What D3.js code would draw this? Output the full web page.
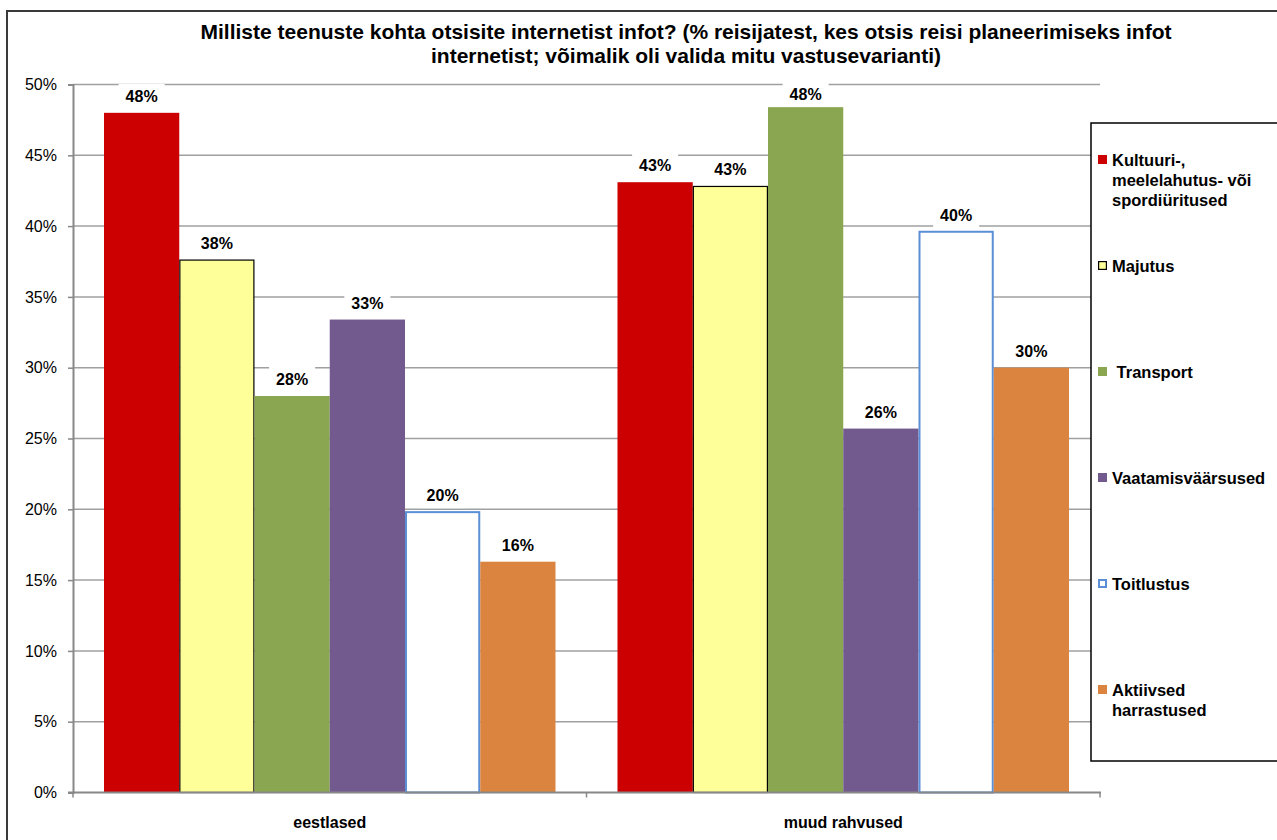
<!DOCTYPE html>
<html><head><meta charset="utf-8">
<script src="https://cdn.jsdelivr.net/npm/d3@7"></script>
<style>body{margin:0;background:#fff}svg{display:block;font-family:"Liberation Sans",Arial,sans-serif}</style>
</head><body><svg id="c" width="1277" height="840"></svg>
<script>
const titleLines = ["Milliste teenuste kohta otsisite internetist infot? (% reisijatest, kes otsis reisi planeerimiseks infot","internetist; võimalik oli valida mitu vastusevarianti)"];
const categories = ["eestlased", "muud rahvused"];
const seriesNames = ["Kultuuri-,\nmeelelahutus- või\nspordiüritused", "Majutus", " Transport", "Vaatamisväärsused", "Toitlustus", "Aktiivsed\nharrastused"];
const eestlased = [48.0, 37.6, 28.0, 33.4, 19.8, 16.3];
const muudRahvused = [43.1, 42.8, 48.4, 25.7, 39.6, 30.0];
const yTicks = [0, 5, 10, 15, 20, 25, 30, 35, 40, 45, 50];
const fills = ["#CC0000", "#FFFF99", "#8BA650", "#725A8E", "#FFFFFF", "#DB843F"];
const strokes = ["none", "#000000", "none", "none", "#5B8FD6", "none"];
const strokeW = [0, 1.2, 0, 0, 2, 0];

const values = [eestlased, muudRahvused];
const svg = d3.select("#c");
const L = 73, R = 1100, T = 84.5, B = 792.5;

// outer frame
svg.append("rect").attr("x", 7).attr("y", 11).attr("width", 1300).attr("height", 900)
  .attr("fill", "none").attr("stroke", "#3a3a3a").attr("stroke-width", 2);

// title
svg.append("text").attr("x", 686).attr("y", 39).attr("text-anchor", "middle")
  .style("font-weight", "bold").style("font-size", "21px")
  .selectAll("tspan").data(titleLines).join("tspan")
  .attr("x", 686).attr("dy", (d, i) => i ? 24 : 0).text(d => d);

const y = d3.scaleLinear().domain([0, 50]).range([B, T]);
const x0 = d3.scaleBand().domain(categories).range([L, R]);
const x1 = d3.scaleBand().domain(d3.range(seriesNames.length)).range([31, x0.bandwidth() - 31]);

// gridlines
svg.append("g").selectAll("line").data(yTicks.filter(d => d > 0)).join("line")
  .attr("x1", L).attr("x2", R).attr("y1", d => y(d)).attr("y2", d => y(d))
  .attr("stroke", "#a0a0a0").attr("stroke-width", 1.5);

// bars
const g = svg.append("g");
categories.forEach((c, ci) => {
  g.append("g").attr("transform", `translate(${x0(c)},0)`)
    .selectAll("rect").data(values[ci]).join("rect")
    .attr("x", (d, i) => x1(i) + strokeW[i] / 2)
    .attr("width", (d, i) => x1.bandwidth() - strokeW[i])
    .attr("y", d => y(d))
    .attr("height", d => B - y(d))
    .attr("fill", (d, i) => fills[i])
    .attr("stroke", (d, i) => strokes[i])
    .attr("stroke-width", (d, i) => strokeW[i]);
});

// y axis
const ya = svg.append("g").attr("transform", `translate(${L},0)`)
  .call(d3.axisLeft(y).tickValues(yTicks).tickFormat(d => d + "%").tickSize(5).tickPadding(11));
ya.select(".domain").attr("stroke", "#888").attr("stroke-width", 2);
ya.selectAll(".tick line").attr("stroke", "#888").attr("stroke-width", 1.5);
ya.selectAll(".tick text").style("font-size", "16px").style("font-family", "Liberation Sans, Arial, sans-serif").attr("fill", "#000");

// x axis
svg.append("line").attr("x1", L - 5).attr("x2", R + 1).attr("y1", B).attr("y2", B)
  .attr("stroke", "#888").attr("stroke-width", 2);
svg.append("g").selectAll("line").data([L, x0(categories[1]), R]).join("line")
  .attr("x1", d => d).attr("x2", d => d).attr("y1", B).attr("y2", B + 5)
  .attr("stroke", "#888").attr("stroke-width", 1.5);
svg.append("g").selectAll("text").data(categories).join("text")
  .attr("x", d => x0(d) + x0.bandwidth() / 2).attr("y", 828)
  .attr("text-anchor", "middle").style("font-weight", "bold").style("font-size", "16px").text(d => d);

// value labels
categories.forEach((c, ci) => {
  const lg = svg.append("g").attr("transform", `translate(${x0(c)},0)`);
  values[ci].forEach((v, i) => {
    const cx = x1(i) + x1.bandwidth() / 2;
    const by = Math.max(y(v) - 11, 100);
    const t = lg.append("text").attr("x", cx).attr("y", by).attr("text-anchor", "middle")
      .style("font-weight", "bold").style("font-size", "16px").text(Math.round(v) + "%");
    const bb = t.node().getBBox();
    lg.insert("rect", "text").attr("x", bb.x - 7).attr("y", bb.y - 4).attr("width", bb.width + 14).attr("height", bb.height + 8).attr("fill", "#fff");
  });
});

// legend
svg.append("rect").attr("x", 1091).attr("y", 123).attr("width", 250).attr("height", 638)
  .attr("fill", "#fff").attr("stroke", "#000").attr("stroke-width", 1.5);
const leg = svg.append("g").selectAll("g").data(seriesNames).join("g")
  .attr("transform", (d, i) => `translate(1098,${160 + i * 106})`);
leg.append("rect").attr("x", (d, i) => strokeW[i] / 2).attr("y", (d, i) => -5 + strokeW[i] / 2)
  .attr("width", (d, i) => 9 - strokeW[i]).attr("height", (d, i) => 9 - strokeW[i])
  .attr("fill", (d, i) => fills[i]).attr("stroke", (d, i) => strokes[i]).attr("stroke-width", (d, i) => strokeW[i]);
leg.append("text").attr("y", 5.5).style("font-weight", "bold").style("font-size", "16.5px")
  .attr("xml:space", "preserve")
  .selectAll("tspan").data(d => d.split("\n")).join("tspan")
  .attr("x", 14).attr("dy", (d, i) => i ? 20 : 0).style("white-space", "pre").text(d => d);
</script></body></html>
